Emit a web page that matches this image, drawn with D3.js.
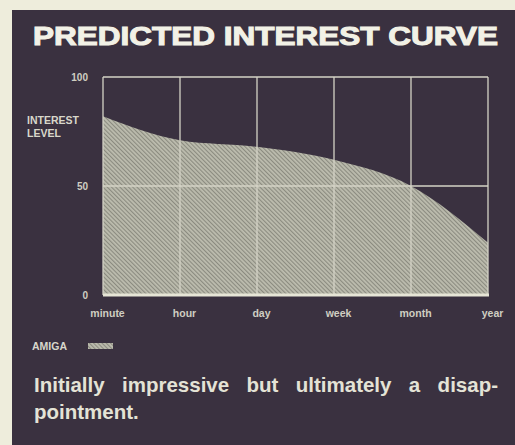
<!DOCTYPE html>
<html>
<head>
<meta charset="utf-8">
<script src="https://cdn.jsdelivr.net/npm/d3@7"></script>
<style>
  html, body { margin: 0; padding: 0; background: #eeeddc; }
  svg { display: block; }
  text { font-family: "Liberation Sans", Arial, sans-serif; }
</style>
</head>
<body>
<svg id="chart" width="515" height="445"></svg>
<script>
// Time horizon categories along the x axis
const periods = ["minute", "hour", "day", "week", "month", "year"];
// Predicted interest level (0-100) for the Amiga at each horizon
const amigaInterest = [82, 71, 68, 62, 50, 24];
// Y axis tick values
const yTicks = [0, 50, 100];
const seriesName = "AMIGA";
const title = "PREDICTED INTEREST CURVE";
const captionLines = ["Initially impressive but ultimately a disap-", "pointment."];

const svg = d3.select("#chart");
const W = 515, H = 445;

// dark panel
svg.append("rect").attr("x", 12).attr("y", 10).attr("width", W - 12).attr("height", H - 10)
  .attr("fill", "#3a3140");

// hatch pattern for the area fill
const defs = svg.append("defs");
const pat = defs.append("pattern").attr("id", "hatch")
  .attr("patternUnits", "userSpaceOnUse").attr("width", 3).attr("height", 3)
  .attr("patternTransform", "rotate(-45)");
pat.append("rect").attr("width", 3).attr("height", 3).attr("fill", "#bcbcae");
pat.append("rect").attr("width", 1.1).attr("height", 3).attr("fill", "#8b8b80");

// title
svg.append("text").attr("x", 33).attr("y", 45)
  .attr("font-size", 25).attr("font-weight", 900).attr("fill", "#f2f1e6")
  .attr("stroke", "#f2f1e6").attr("stroke-width", 1)
  .attr("textLength", 465).attr("lengthAdjust", "spacingAndGlyphs")
  .text(title);

const plot = { left: 103, right: 488, top: 77, bottom: 295 };

const x = d3.scalePoint().domain(periods).range([plot.left, plot.right]);
const y = d3.scaleLinear().domain([0, 100]).range([plot.bottom, plot.top]);

const data = periods.map((p, i) => ({ p, v: amigaInterest[i] }));

// area under the interest curve
const area = d3.area()
  .x(d => x(d.p)).y0(y(0)).y1(d => y(d.v))
  .curve(d3.curveMonotoneX);
svg.append("path").datum(data).attr("d", area).attr("fill", "url(#hatch)");

const gridColor = "#d4d3c6";
// vertical gridlines at each period
svg.append("g").selectAll("line").data(periods).join("line")
  .attr("x1", d => x(d)).attr("x2", d => x(d))
  .attr("y1", y(100)).attr("y2", y(0))
  .attr("stroke", gridColor).attr("stroke-width", 1.3);
// horizontal gridlines
svg.append("g").selectAll("line").data(yTicks.filter(t => t > 0)).join("line")
  .attr("x1", plot.left).attr("x2", plot.right)
  .attr("y1", d => y(d)).attr("y2", d => y(d))
  .attr("stroke", gridColor).attr("stroke-width", 1.3);
// baseline
svg.append("line").attr("x1", plot.left).attr("x2", plot.right + 1)
  .attr("y1", y(0)).attr("y2", y(0))
  .attr("stroke", "#e6e5d6").attr("stroke-width", 3);

const labelFont = "Liberation Sans, Arial, sans-serif";
// y axis labels
const yAxis = d3.axisLeft(y).tickValues(yTicks).tickSize(0).tickPadding(15);
const gy = svg.append("g").attr("transform", `translate(${plot.left},0)`).call(yAxis);
gy.select(".domain").remove();
gy.selectAll("text").attr("font-size", 10).attr("font-weight", "bold")
  .attr("fill", "#cfcec2").style("font-family", labelFont);

// x axis labels
const xAxis = d3.axisBottom(x).tickSize(0).tickPadding(15);
const gx = svg.append("g").attr("transform", `translate(0,${plot.bottom})`).call(xAxis);
gx.select(".domain").remove();
gx.selectAll("text").attr("font-size", 10.5).attr("font-weight", "bold").attr("dx", 4)
  .attr("fill", "#cfcec2").style("font-family", labelFont);

// y axis title
const yt = svg.append("text").attr("x", 27).attr("y", 124)
  .attr("font-size", 10.5).attr("font-weight", "bold").attr("fill", "#d8d7cb");
yt.append("tspan").attr("x", 27).text("INTEREST");
yt.append("tspan").attr("x", 27).attr("dy", 13).text("LEVEL");

// legend
svg.append("text").attr("x", 32).attr("y", 350)
  .attr("font-size", 10.5).attr("font-weight", "bold").attr("fill", "#d8d7cb")
  .text(seriesName);
svg.append("rect").attr("x", 88).attr("y", 343).attr("width", 25).attr("height", 6)
  .attr("fill", "url(#hatch)");

// caption, first line justified
const cap = svg.append("g");
const l1 = cap.append("text").attr("x", 34).attr("y", 392)
  .attr("font-size", 20.5).attr("font-weight", "bold").attr("fill", "#e4e3d6")
  .text(captionLines[0]);
const natural = l1.node().getComputedTextLength();
const gaps = captionLines[0].split(" ").length - 1;
l1.attr("word-spacing", (498 - 34 - natural) / gaps);
cap.append("text").attr("x", 34).attr("y", 419)
  .attr("font-size", 20.5).attr("font-weight", "bold").attr("fill", "#e4e3d6")
  .text(captionLines[1]);
</script>
</body>
</html>
